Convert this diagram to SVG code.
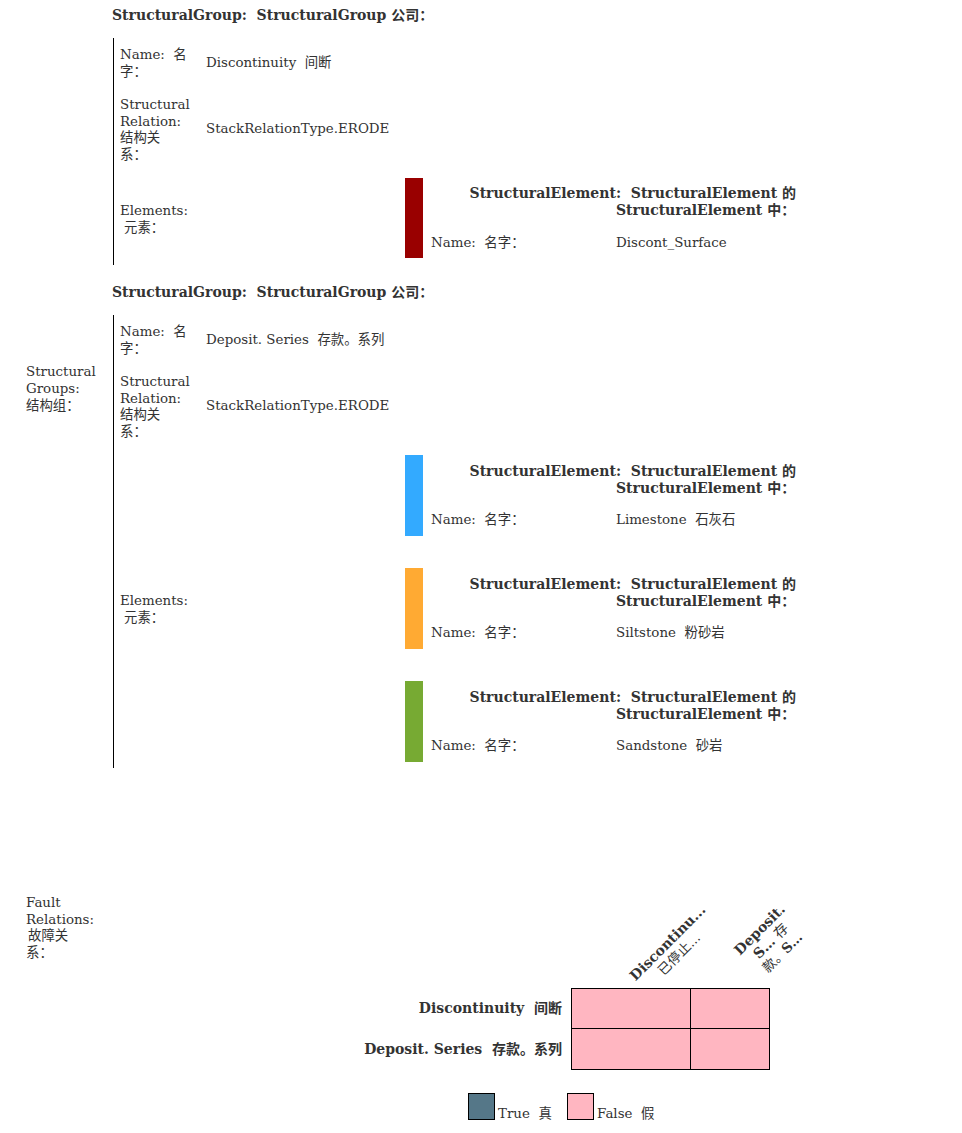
<svg xmlns="http://www.w3.org/2000/svg" width="962" height="1133" viewBox="0 0 962 1133">
<style>
text{font-family:"DejaVu Serif","Noto Sans CJK SC",serif;font-size:13.4px;fill:#333;white-space:pre;}
.b{font-weight:bold;font-size:14px;}
.e{text-anchor:end;}
.m{text-anchor:middle;}
.vl{stroke:#000;stroke-width:1;}
.cell{fill:#ffb6c1;stroke:#000;stroke-width:1;}
</style>
<rect width="962" height="1133" fill="#fff"/>
<g id="structural-groups-label">
<text x="26" y="376">Structural</text>
<text x="26" y="393">Groups:</text>
<text x="26" y="410">结构组：</text>
</g>
<g id="group1">
<text class="b" x="112" y="20">StructuralGroup:&#160; StructuralGroup 公司：</text>
<line class="vl" x1="113.5" y1="38" x2="113.5" y2="265"/>
<text x="120" y="59">Name:&#160; 名</text>
<text x="120" y="76">字：</text>
<text x="206" y="67">Discontinuity&#160; 间断</text>
<text x="120" y="109">Structural</text>
<text x="120" y="126">Relation:</text>
<text x="120" y="142">结构关</text>
<text x="120" y="159">系：</text>
<text x="206" y="133">StackRelationType.ERODE</text>
<text x="120" y="215">Elements:</text>
<text x="124" y="232">元素：</text>
</g>
<g id="element-discont">
<rect x="405" y="178" width="18" height="80" fill="#990000"/>
<text class="b e" x="796" y="198">StructuralElement:&#160; StructuralElement 的</text>
<text class="b" x="616" y="215">StructuralElement 中：</text>
<text x="431" y="247">Name:&#160; 名字：</text>
<text x="616" y="247">Discont_Surface</text>
</g>
<g id="group2">
<text class="b" x="112" y="297">StructuralGroup:&#160; StructuralGroup 公司：</text>
<line class="vl" x1="113.5" y1="315" x2="113.5" y2="768"/>
<text x="120" y="336">Name:&#160; 名</text>
<text x="120" y="353">字：</text>
<text x="206" y="344">Deposit. Series&#160; 存款。系列</text>
<text x="120" y="386">Structural</text>
<text x="120" y="403">Relation:</text>
<text x="120" y="419">结构关</text>
<text x="120" y="436">系：</text>
<text x="206" y="410">StackRelationType.ERODE</text>
<text x="120" y="605">Elements:</text>
<text x="124" y="622">元素：</text>
</g>
<g id="element-limestone">
<rect x="405" y="455" width="18" height="81" fill="#33aaff"/>
<text class="b e" x="796" y="476">StructuralElement:&#160; StructuralElement 的</text>
<text class="b" x="616" y="493">StructuralElement 中：</text>
<text x="431" y="524">Name:&#160; 名字：</text>
<text x="616" y="524">Limestone&#160; 石灰石</text>
</g>
<g id="element-siltstone">
<rect x="405" y="568" width="18" height="81" fill="#ffaa33"/>
<text class="b e" x="796" y="589">StructuralElement:&#160; StructuralElement 的</text>
<text class="b" x="616" y="606">StructuralElement 中：</text>
<text x="431" y="637">Name:&#160; 名字：</text>
<text x="616" y="637">Siltstone&#160; 粉砂岩</text>
</g>
<g id="element-sandstone">
<rect x="405" y="681" width="18" height="81" fill="#77aa33"/>
<text class="b e" x="796" y="702">StructuralElement:&#160; StructuralElement 的</text>
<text class="b" x="616" y="719">StructuralElement 中：</text>
<text x="431" y="750">Name:&#160; 名字：</text>
<text x="616" y="750">Sandstone&#160; 砂岩</text>
</g>
<g id="fault-relations-label">
<text x="26" y="907">Fault</text>
<text x="26" y="924">Relations:</text>
<text x="28" y="940">故障关</text>
<text x="26" y="957">系：</text>
</g>
<g id="matrix">
<g transform="translate(671,946) rotate(-45)">
<text class="b m" x="0" y="0">Discontinu...</text>
<text class="m" x="0" y="16">已停止...</text>
</g>
<g transform="translate(763,933) rotate(-45)">
<text class="b m" x="0" y="0">Deposit.</text>
<text class="b m" x="0" y="16">S… <tspan font-weight="normal">存</tspan></text>
<text class="m" x="0" y="32">款。<tspan font-weight="bold">S…</tspan></text>
</g>
<text class="b e" x="562" y="1013">Discontinuity&#160; 间断</text>
<text class="b e" x="562" y="1054">Deposit. Series&#160; 存款。系列</text>
<rect class="cell" x="571.5" y="988.5" width="119" height="40"/>
<rect class="cell" x="690.5" y="988.5" width="79" height="40"/>
<rect class="cell" x="571.5" y="1028.5" width="119" height="41"/>
<rect class="cell" x="690.5" y="1028.5" width="79" height="41"/>
</g>
<g id="legend">
<rect x="468.5" y="1093.5" width="26" height="26" fill="#557788" stroke="#000"/>
<text x="498" y="1118">True&#160; 真</text>
<rect x="567.5" y="1093.5" width="26" height="26" fill="#ffb6c1" stroke="#000"/>
<text x="597" y="1118">False&#160; 假</text>
</g>
</svg>
